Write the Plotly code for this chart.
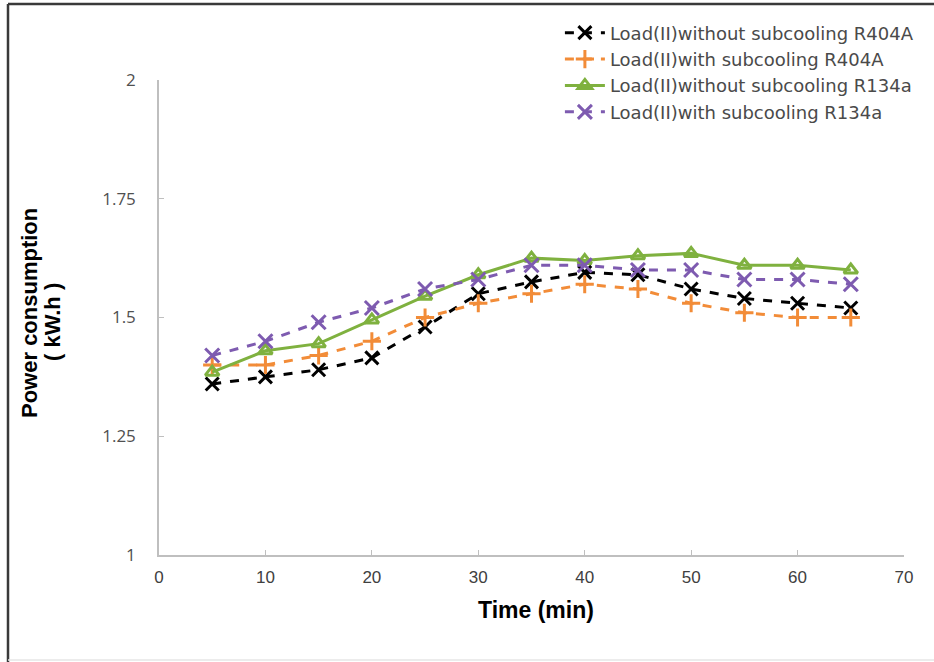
import plotly.graph_objects as go

time_min = [5, 10, 15, 20, 25, 30, 35, 40, 45, 50, 55, 60, 65]
r404a_without = [1.36, 1.375, 1.39, 1.415, 1.48, 1.55, 1.575, 1.595, 1.59, 1.56, 1.54, 1.53, 1.52]
r404a_with = [1.40, 1.40, 1.42, 1.45, 1.50, 1.53, 1.55, 1.57, 1.56, 1.53, 1.51, 1.50, 1.50]
r134a_without = [1.385, 1.43, 1.445, 1.495, 1.545, 1.59, 1.625, 1.62, 1.63, 1.635, 1.61, 1.61, 1.60]
r134a_with = [1.42, 1.45, 1.49, 1.52, 1.56, 1.58, 1.61, 1.61, 1.60, 1.60, 1.58, 1.58, 1.57]

names = ["Load(II)without subcooling R404A", "Load(II)with subcooling R404A",
         "Load(II)without subcooling R134a", "Load(II)with subcooling R134a"]
series = [r404a_without, r404a_with, r134a_without, r134a_with]
colors = ["#000000", "#F28C38", "#7FB13F", "#7E5BB0"]
dashes = ["dash", "dash", "solid", "dash"]
symbols = ["x-thin", "cross-thin", "triangle-up-open", "x-thin"]
sizes = [13, 13, 12, 14]

x_ticks = [0, 10, 20, 30, 40, 50, 60, 70]
y_ticks = [1, 1.25, 1.5, 1.75, 2]
y_tick_text = ["1", "1.25", "1.5", "1.75", "2"]

fig = go.Figure()
for n, s, c, d, sym, sz in zip(names, series, colors, dashes, symbols, sizes):
    fig.add_trace(go.Scatter(
        x=time_min, y=s, name=n, mode="lines+markers",
        line=dict(color=c, width=3, dash=d),
        marker=dict(symbol=sym, size=sz, color=c, line=dict(color=c, width=3)),
    ))

L, T, W, H = 159, 80, 745, 475

def px(xp):
    return (xp - L) / W

def py(yp):
    return (T + H - yp) / H

fig.update_layout(
    width=934, height=662,
    margin=dict(l=L, r=934 - L - W, t=T, b=662 - T - H),
    paper_bgcolor="white", plot_bgcolor="white",
    font=dict(family="Liberation Sans, Arial", color="#404040"),
    showlegend=True,
    legend=dict(x=1.02, xanchor="right", y=1.138, yanchor="top",
                font=dict(size=18, color="#4a4a4a", family="DejaVu Sans"),
                bgcolor="rgba(0,0,0,0)", tracegroupgap=0, itemwidth=40),
    xaxis=dict(range=[0, 70], tickvals=x_ticks, showgrid=False, zeroline=False,
               showline=True, linecolor="#bfbfbf", linewidth=1.5,
               ticks="inside", ticklen=5, tickcolor="#bfbfbf",
               tickfont=dict(size=17, color="#404040", family="Liberation Sans"),
               ticklabelstandoff=6),
    yaxis=dict(range=[1, 2], tickvals=y_ticks, ticktext=y_tick_text,
               showgrid=False, zeroline=False,
               showline=True, linecolor="#bfbfbf", linewidth=1.5,
               ticks="inside", ticklen=5, tickcolor="#bfbfbf",
               tickfont=dict(size=17, color="#505050", family="Open Sans"),
               ticklabelstandoff=18),
)

# axis titles
fig.add_annotation(text="<b>Time (min)</b>", xref="paper", yref="paper",
                   x=px(536), y=py(610), showarrow=False, xanchor="center", yanchor="middle",
                   font=dict(size=23, color="#000000", family="Liberation Sans, Arial"))
fig.add_annotation(text="<b>Power consumption</b>", xref="paper", yref="paper",
                   x=px(29), y=py(313), showarrow=False, textangle=-90,
                   xanchor="center", yanchor="middle",
                   font=dict(size=22, color="#000000", family="Liberation Sans, Arial"))
fig.add_annotation(text="<b>( kW.h )</b>", xref="paper", yref="paper",
                   x=px(52), y=py(322), showarrow=False, textangle=-90,
                   xanchor="center", yanchor="middle",
                   font=dict(size=22, color="#000000", family="Liberation Sans, Arial"))

# outer frame (top and left edges) and faint bottom edge
fig.add_shape(type="line", xref="paper", yref="paper",
              x0=px(8), x1=px(934), y0=py(4), y1=py(4),
              line=dict(color="#3a3a3a", width=2.5))
fig.add_shape(type="line", xref="paper", yref="paper",
              x0=px(8), x1=px(8), y0=py(4), y1=py(662),
              line=dict(color="#3a3a3a", width=2.5))
fig.add_shape(type="line", xref="paper", yref="paper",
              x0=px(8), x1=px(934), y0=py(660), y1=py(660),
              line=dict(color="#e6e6e6", width=1.5))

fig.write_html("out.html", config={"displayModeBar": False},
               post_script="document.body.style.margin='0';document.body.style.overflow='hidden';")
